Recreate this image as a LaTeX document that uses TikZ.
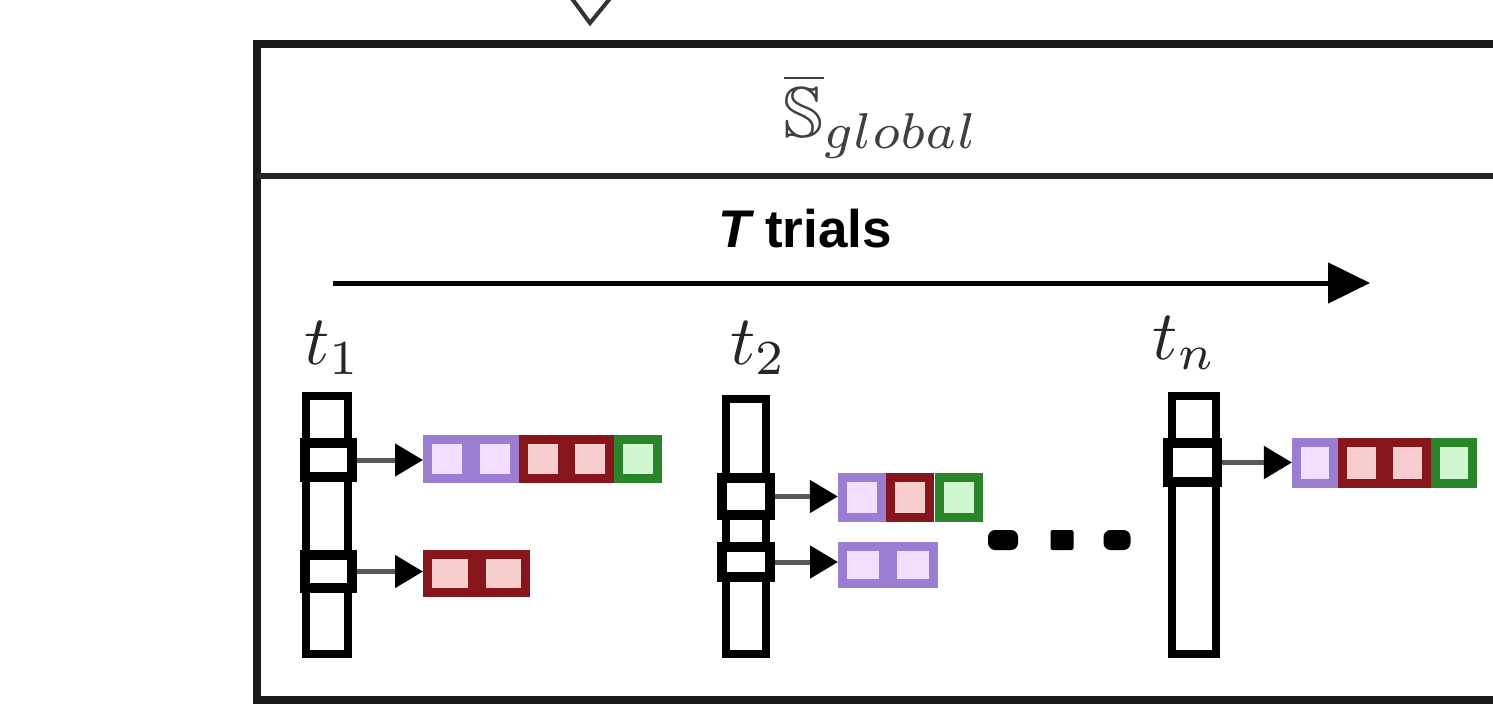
\documentclass[tikz,border=0pt]{standalone}
\usepackage{amssymb}
\usepackage{fontspec}
\newfontfamily\labelfont{Liberation Sans}
\usetikzlibrary{arrows.meta}

% scalable Computer Modern math fonts for the large labels
\DeclareFontShape{OML}{cmm}{m}{it}{<-60>cmmi7 <60->cmmi10}{}
\DeclareFontShape{OT1}{cmr}{m}{n}{<-60>cmr7 <60->cmr10}{}
\DeclareFontShape{OMS}{cmsy}{m}{n}{<-60>cmsy7 <60->cmsy10}{}
\DeclareFontShape{OMX}{cmex}{m}{n}{<->cmex10}{}

\definecolor{purpleB}{RGB}{155,125,210}
\definecolor{purpleF}{RGB}{242,222,255}
\definecolor{redB}{RGB}{135,22,28}
\definecolor{redF}{RGB}{246,205,205}
\definecolor{greenB}{RGB}{42,132,42}
\definecolor{greenF}{RGB}{208,246,208}

\tikzset{
  frame/.style={line width=8pt, draw=black!90},
  divider/.style={line width=6pt, draw=black!85},
  column/.style={draw=black, line width=8pt, fill=white, inner sep=0pt},
  hcell/.style={draw=black, line width=10pt, fill=white, inner sep=0pt},
  chainbox/.style={line width=9pt, inner sep=0pt},
  pbox/.style={chainbox, draw=purpleB, fill=purpleF},
  rbox/.style={chainbox, draw=redB, fill=redF},
  gbox/.style={chainbox, draw=greenB, fill=greenF},
  link/.style={draw=black!65, line width=5pt, -{Triangle[length=28pt,width=32pt,color=black]}},
  timeline/.style={draw=black, line width=5pt, -{Triangle[length=42pt,width=40pt]}},
  dotmark/.style={fill=black, rounded corners=7pt, minimum height=20pt, inner sep=0pt},
  triallabel/.style={font=\fontsize{70}{84}\selectfont, inner sep=0pt, text=black!85},
}

\begin{document}
\begin{tikzpicture}[x=1pt, y=-1pt]
\useasboundingbox (0,0) rectangle (1493,706);
\clip (0,0) rectangle (1493,706);

% incoming arrow tip from above
\draw[line width=4pt, draw=black!80, line join=miter] (570,-4) -- (590,23) -- (612,-4);

% outer frame, open to the right
\draw[frame] (1520,44) -- (257,44) -- (257,700) -- (1520,700);
\draw[divider] (257,176) -- (1520,176);

% header
\node[inner sep=0pt, text=black!75, font=\fontsize{72}{86}\selectfont] (title) at (880,116) {$\overline{\mathbb{S}}_{global}$};

% time axis
\node[inner sep=0pt, font=\labelfont\bfseries\fontsize{53}{64}\selectfont] (trials) at (805,229) {\itshape T\upshape\ trials};
\coordinate (axisL) at (333,283);
\coordinate (axisR) at (1370,283);
\draw[timeline] (axisL) -- (axisR);

% trial labels
\node[triallabel] (lab1) at (331,348) {$t_1$};
\node[triallabel] (lab2) at (757,348) {$t_2$};
\node[triallabel] (labn) at (1183,343) {$t_n$};

% trial columns
\node[column, minimum width=42pt, minimum height=258pt] (col1) at (327,525) {};
\node[column, minimum width=40pt, minimum height=255pt] (col2) at (746,526.5) {};
\node[column, minimum width=44pt, minimum height=258pt] (coln) at (1194,525) {};

% selected cells
\node[hcell, minimum width=47pt, minimum height=34pt] (c1a) at (328.5,460) {};
\node[hcell, minimum width=47pt, minimum height=33pt] (c1b) at (328.5,571.5) {};
\node[hcell, minimum width=48pt, minimum height=37pt] (c2a) at (746,496.5) {};
\node[hcell, minimum width=48pt, minimum height=30pt] (c2b) at (746,562) {};
\node[hcell, minimum width=49pt, minimum height=39pt] (cna) at (1192.5,462.5) {};

% chains for t1
\begin{scope}[every node/.append style={minimum width=39pt, minimum height=39pt}]
\node[pbox] (a1) at (447,459) {};
\node[pbox] (a2) at (494.75,459) {};
\node[rbox] (a3) at (542.5,459) {};
\node[rbox] (a4) at (590.25,459) {};
\node[gbox] (a5) at (638,459) {};
\end{scope}
\begin{scope}[every node/.append style={minimum width=44.5pt, minimum height=38pt}]
\node[rbox] (b1) at (449.75,573.5) {};
\node[rbox] (b2) at (503.25,573.5) {};
\end{scope}

% chains for t2
\begin{scope}[every node/.append style={minimum width=39.3pt, minimum height=40pt}]
\node[pbox] (d1) at (862,497.5) {};
\node[rbox] (d2) at (910.3,497.5) {};
\node[gbox] (d3) at (958.7,497.5) {};
\end{scope}
\begin{scope}[every node/.append style={minimum width=41pt, minimum height=37pt}]
\node[pbox] (e1) at (863,565) {};
\node[pbox] (e2) at (913,565) {};
\end{scope}

% chain for tn
\begin{scope}[every node/.append style={minimum width=37.25pt, minimum height=41pt}]
\node[pbox] (f1) at (1315.1,463) {};
\node[rbox] (f2) at (1361.4,463) {};
\node[rbox] (f3) at (1407.6,463) {};
\node[gbox] (f4) at (1453.9,463) {};
\end{scope}

% links from cells to chains
\draw[link] (c1a.east) -- (c1a.east -| a1.west);
\draw[link] (c1b.east) -- (c1b.east -| b1.west);
\draw[link] (c2a.east) -- (c2a.east -| d1.west);
\draw[link] (c2b.east) -- (c2b.east -| e1.west);
\draw[link] (cna.east) -- (cna.east -| f1.west);

% ellipsis
\node[dotmark, minimum width=30pt] (dot1) at (1003,540) {};
\node[dotmark, minimum width=23pt, rounded corners=2pt] (dot2) at (1062,540) {};
\node[dotmark, minimum width=27pt] (dot3) at (1117,540) {};
\end{tikzpicture}
\end{document}
